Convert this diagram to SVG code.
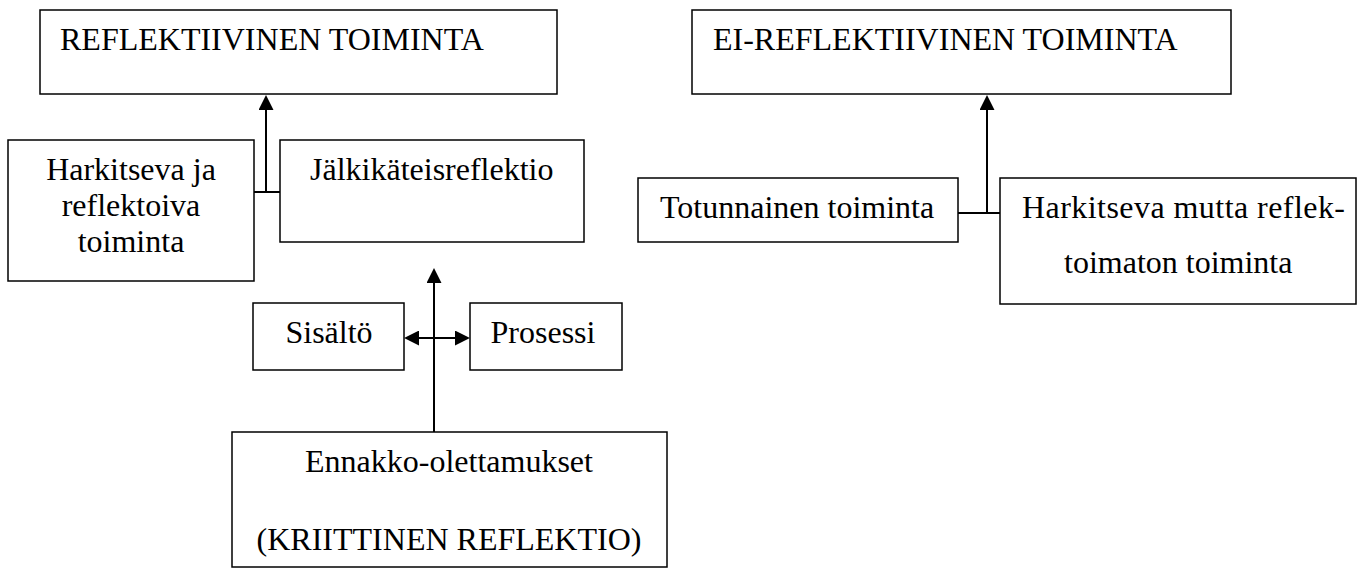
<svg xmlns="http://www.w3.org/2000/svg" width="1363" height="568" viewBox="0 0 1363 568">
<style>
.box{fill:#fff;stroke:#000;stroke-width:1.5}
.t{font-family:"Liberation Serif","Times New Roman",serif;font-size:32px;fill:#000}
.c{text-anchor:middle}
.ln{fill:none;stroke:#000;stroke-width:2}
</style>
<defs>
<marker id="ah" viewBox="0 0 10 10" refX="6.7" refY="5" markerWidth="15" markerHeight="15" markerUnits="userSpaceOnUse" orient="auto-start-reverse">
<path d="M0,0 L10,5 L0,10 z" fill="#000"/>
</marker>
</defs>
<rect width="1363" height="568" fill="#fff"/>
<g id="n_reflektiivinen">
<rect class="box" x="40" y="10" width="517" height="84"/>
<text class="t" x="60" y="50">REFLEKTIIVINEN TOIMINTA</text>
</g>
<g id="n_harkitseva">
<rect class="box" x="8" y="140" width="246" height="141"/>
<text class="t c" x="131" y="180">Harkitseva ja</text>
<text class="t c" x="131" y="216">reflektoiva</text>
<text class="t c" x="131" y="252">toiminta</text>
</g>
<g id="n_jalkikateis">
<rect class="box" x="280" y="140" width="304" height="102"/>
<text class="t" x="310" y="180">Jälkikäteisreflektio</text>
</g>
<g id="n_sisalto">
<rect class="box" x="253" y="303" width="151" height="67"/>
<text class="t c" x="329" y="343">Sisältö</text>
</g>
<g id="n_prosessi">
<rect class="box" x="470" y="303" width="152" height="67"/>
<text class="t c" x="543" y="343">Prosessi</text>
</g>
<g id="n_ennakko">
<rect class="box" x="232" y="432" width="435" height="135"/>
<text class="t c" x="449" y="472">Ennakko-olettamukset</text>
<text class="t c" x="449" y="550">(KRIITTINEN REFLEKTIO)</text>
</g>
<g id="n_eireflektiivinen">
<rect class="box" x="692" y="10" width="539" height="84"/>
<text class="t" x="713" y="50">EI-REFLEKTIIVINEN TOIMINTA</text>
</g>
<g id="n_totunnainen">
<rect class="box" x="638" y="178" width="320" height="64"/>
<text class="t" x="660" y="218">Totunnainen toiminta</text>
</g>
<g id="n_harkitseva_mutta">
<rect class="box" x="1000" y="178" width="356" height="126"/>
<text class="t" x="1022" y="218" textLength="323" lengthAdjust="spacing">Harkitseva mutta reflek-</text>
<text class="t" x="1064" y="273">toimaton toiminta</text>
</g>
<g id="connectors">
<line class="ln" x1="254" y1="192" x2="280" y2="192"/>
<line class="ln" x1="266" y1="192" x2="266" y2="100" marker-end="url(#ah)"/>
<line class="ln" x1="434" y1="432" x2="434" y2="273" marker-end="url(#ah)"/>
<line class="ln" x1="409" y1="338" x2="465" y2="338" marker-start="url(#ah)" marker-end="url(#ah)"/>
<line class="ln" x1="958" y1="213" x2="1000" y2="213"/>
<line class="ln" x1="987" y1="213" x2="987" y2="100" marker-end="url(#ah)"/>
</g>
</svg>
